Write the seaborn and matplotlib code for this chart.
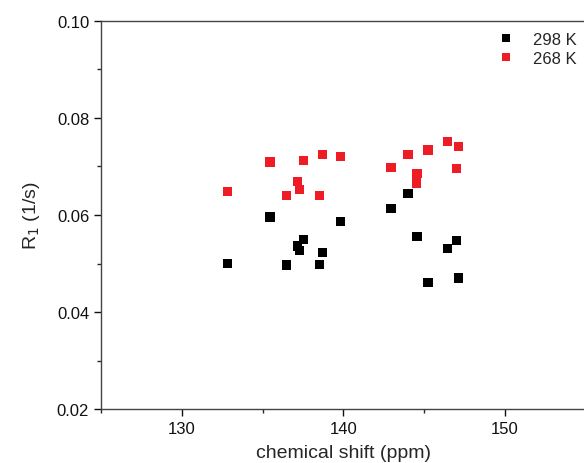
import pandas as pd
import numpy as np
import matplotlib.pyplot as plt
import seaborn as sns
from matplotlib.ticker import MultipleLocator

# Datos
shift_298 = [132.84, 135.46, 136.46, 137.18, 137.30, 137.51, 138.54, 138.72,
             139.80, 142.94, 143.99, 144.55, 145.23, 146.45, 147.02, 147.11]
r1_298 = [0.0500, 0.0596, 0.0497, 0.0536, 0.0527, 0.0549, 0.0498, 0.0523,
          0.0587, 0.0613, 0.0644, 0.0556, 0.0461, 0.0531, 0.0548, 0.0470]

shift_268 = [132.84, 135.46, 136.46, 137.18, 137.30, 137.51, 138.54, 138.72,
             139.80, 142.94, 143.99, 144.55, 144.52, 145.23, 146.45, 147.11, 147.02]
r1_268 = [0.0649, 0.0709, 0.0640, 0.0669, 0.0653, 0.0712, 0.0640, 0.0724,
          0.0720, 0.0698, 0.0724, 0.0685, 0.0666, 0.0734, 0.0751, 0.0741, 0.0696]

etiquetas = ['298 K', '268 K']
colores = ['#000000', '#ee1c24']

datos = pd.concat([
    pd.DataFrame({'shift': shift_298, 'r1': r1_298, 'temp': etiquetas[0]}),
    pd.DataFrame({'shift': shift_268, 'r1': r1_268, 'temp': etiquetas[1]}),
])

sns.set_style('ticks')
plt.rcParams['font.family'] = ['Liberation Sans', 'DejaVu Sans']

fig = plt.figure(figsize=(5.84, 4.64), dpi=100)
ax = fig.add_axes([0.173, 0.116, 0.83, 0.837])

sns.scatterplot(data=datos, x='shift', y='r1', hue='temp', palette=colores,
                marker='s', s=45, linewidth=0, ax=ax)

ax.set_xlim(125, 155)
ax.set_ylim(0.02, 0.10)
ax.xaxis.set_major_locator(MultipleLocator(10))
ax.xaxis.set_minor_locator(MultipleLocator(5))
ax.yaxis.set_major_locator(MultipleLocator(0.02))
ax.yaxis.set_minor_locator(MultipleLocator(0.01))
ax.yaxis.set_major_formatter(plt.FormatStrFormatter('%.2f'))
ax.tick_params(which='major', direction='out', length=5, width=1, labelsize=12, colors='#111111')
ax.tick_params(which='minor', direction='out', length=3, width=1)
for sp in ax.spines.values():
    sp.set_color('#444444')
    sp.set_linewidth(1)

ax.set_xlabel('chemical shift (ppm)', fontsize=14, labelpad=6)
ax.set_ylabel('R$_1$ (1/s)', fontsize=14, labelpad=11)

ax.legend(loc='upper right', bbox_to_anchor=(1.012, 1.01), frameon=False, fontsize=12,
          handletextpad=0.6, labelspacing=0.25, markerscale=0.8)

plt.savefig('out.png')
plt.close()
